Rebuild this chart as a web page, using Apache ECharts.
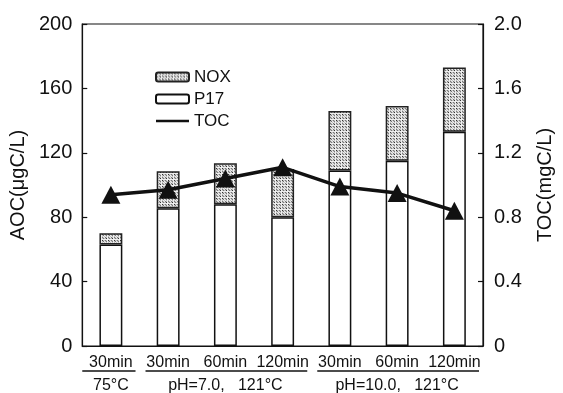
<!DOCTYPE html>
<html><head><meta charset="utf-8">
<script src="https://cdn.jsdelivr.net/npm/echarts@6/dist/echarts.min.js"></script>
<style>html,body{margin:0;padding:0;background:#fff}#c{width:563px;height:393px}</style>
</head><body><div id="c"></div>
<script>
const categories = ['30min','30min','60min','120min','30min','60min','120min'];
const groupLabels = ['75°C','pH=7.0,   121°C','pH=10.0,   121°C'];
const groupRanges = [[0,0],[1,3],[4,6]];
const p17 = [63, 85.5, 88, 80, 109, 115, 133];
const nox = [7, 23, 25.5, 30, 37, 34, 40];
const toc = [0.94, 0.97, 1.04, 1.11, 0.99, 0.95, 0.84];
const leftTicks = [0, 40, 80, 120, 160, 200];
const rightTicks = [0, 0.4, 0.8, 1.2, 1.6, 2.0];

const FONT = 'Liberation Sans';
// stipple texture for NOX
const pc = document.createElement('canvas'); pc.width = 12; pc.height = 12;
const pctx = pc.getContext('2d');
pctx.fillStyle = '#c4c4c4'; pctx.fillRect(0,0,12,12);
for (let i=0;i<12;i++) for (let j=0;j<12;j++) {
  const h = (i*7 + j*13 + i*j) % 6;
  if (h === 0) { pctx.fillStyle = '#333'; pctx.fillRect(i,j,1,1); }
  else if (h === 3) { pctx.fillStyle = '#777'; pctx.fillRect(i,j,1,1); }
  else if (h === 5) { pctx.fillStyle = '#eee'; pctx.fillRect(i,j,1,1); }
}
const noxFill = {image: pc, repeat: 'repeat'};

const chart = echarts.init(document.getElementById('c'), null, {renderer:'canvas'});
const option = {
  animation: false,
  textStyle: {fontFamily: FONT, color: '#111'},
  grid: {left: 82, right: 69, top: 24, bottom: 47, show: true, borderColor: '#111', borderWidth: 1.2, backgroundColor: 'transparent'},
  legend: {
    orient: 'vertical', left: 150, top: 62, itemWidth: 33, itemHeight: 9, itemGap: 2,
    data: [
      {name: 'NOX'},
      {name: 'P17'},
      {name: 'TOC', icon: 'path://M0,4L33,4L33,6.5L0,6.5Z', itemStyle: {color: '#111', borderWidth: 0}}
    ],
    textStyle: {fontFamily: FONT, fontSize: 17, color: '#111', lineHeight: 20, padding: [0,0,0,0]}
  },
  xAxis: {
    type: 'category', data: categories, boundaryGap: true,
    axisLine: {lineStyle: {color: '#111', width: 1.2}},
    axisTick: {inside: true, length: 6, lineStyle: {color: '#111', width: 1.2}},
    axisLabel: {fontFamily: FONT, fontSize: 16, color: '#111', margin: 9, interval: 0}
  },
  yAxis: [
    {type: 'value', min: 0, max: 200, interval: 40, name: 'AOC(μgC/L)', nameLocation: 'middle', nameGap: 52, nameRotate: 90,
     nameTextStyle: {fontFamily: FONT, fontSize: 20, color: '#111'},
     axisLine: {show: true, lineStyle: {color: '#111', width: 1.2}},
     axisTick: {show: true, inside: true, length: 5, lineStyle: {color: '#111', width: 1.2}},
     axisLabel: {fontFamily: FONT, fontSize: 20, color: '#111', margin: 10},
     splitLine: {show: false}},
    {type: 'value', min: 0, max: 2, interval: 0.4, name: 'TOC(mgC/L)', nameLocation: 'middle', nameGap: 52, nameRotate: 90,
     nameTextStyle: {fontFamily: FONT, fontSize: 20, color: '#111'},
     axisLine: {show: true, lineStyle: {color: '#111', width: 1.2}},
     axisTick: {show: true, inside: true, length: 5, lineStyle: {color: '#111', width: 1.2}},
     axisLabel: {fontFamily: FONT, fontSize: 20, color: '#111', margin: 11, formatter: v => v === 0 ? '0' : v.toFixed(1)},
     splitLine: {show: false}}
  ],
  series: [
    {name: 'P17', type: 'bar', stack: 'a', data: p17, barWidth: '40%',
     itemStyle: {color: '#fff', borderColor: '#111', borderWidth: 1.5}},
    {name: 'NOX', type: 'bar', stack: 'a', data: nox, barWidth: '40%',
     itemStyle: {color: noxFill, borderColor: '#222', borderWidth: 1.5}},
    {name: 'TOC', type: 'line', yAxisIndex: 1, data: toc, symbol: 'triangle', symbolSize: [19, 18],
     lineStyle: {color: '#111', width: 3.5}, itemStyle: {color: '#111'}, z: 5}
  ]
};
chart.setOption(option);

// group labels & underlines positioned through the category scale
const graphics = [];
const y0 = chart.convertToPixel({gridIndex: 0}, [0, 0])[1];
const step = chart.convertToPixel({xAxisIndex: 0}, 1) - chart.convertToPixel({xAxisIndex: 0}, 0);
groupRanges.forEach((r, gi) => {
  const a = chart.convertToPixel({xAxisIndex: 0}, r[0]) - step / 2;
  const b = chart.convertToPixel({xAxisIndex: 0}, r[1]) + step / 2;
  const x1 = gi === 0 ? a : a + 6;
  const x2 = b - 4;
  graphics.push({type: 'line', shape: {x1: x1, y1: y0 + 25, x2: x2, y2: y0 + 25}, style: {stroke: '#111', lineWidth: 1.5}});
  graphics.push({type: 'text', x: (a + b) / 2, y: y0 + 40, style: {text: groupLabels[gi], font: '16px "' + FONT + '"', fill: '#111', textAlign: 'center', textVerticalAlign: 'middle'}});
});
chart.setOption({graphic: graphics});
</script></body></html>
